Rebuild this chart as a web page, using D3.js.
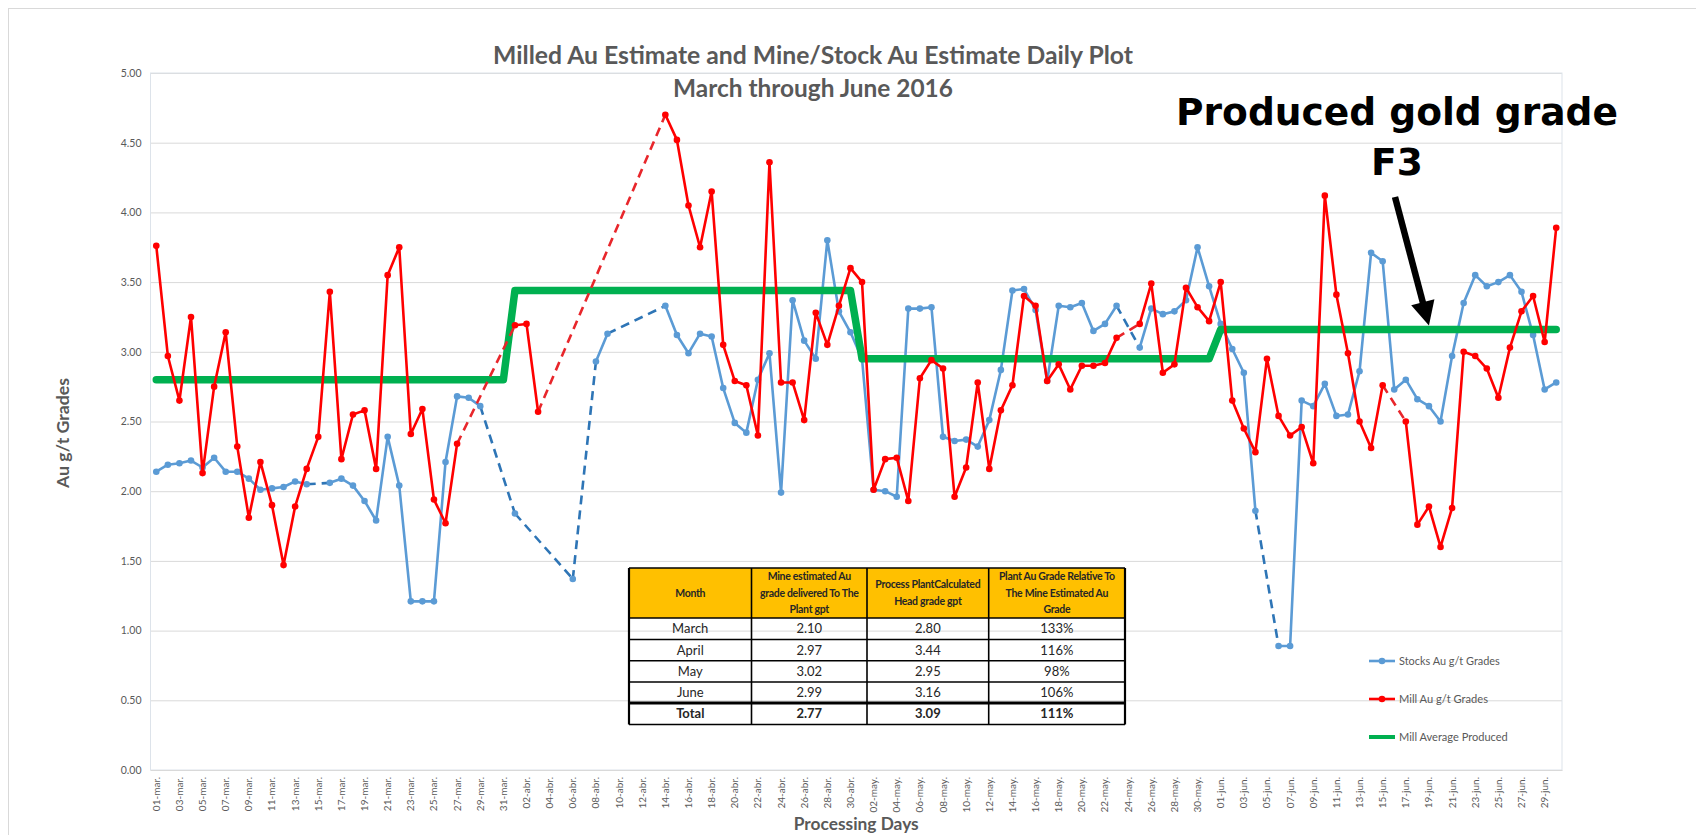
<!DOCTYPE html>
<html>
<head>
<meta charset="utf-8">
<script src="https://cdn.jsdelivr.net/npm/d3@7"></script>
<style>
  body { margin: 0; background: #fff; }
  svg { display: block; font-family: Lato, "Open Sans", sans-serif; }
</style>
</head>
<body>
<script>
// daily grades, 01-mar to 30-jun 2016 (null = no reading, bridged with a dashed line)
const stocks = [
  2.14, 2.19, 2.20, 2.22, 2.17, 2.24, 2.14, 2.14, 2.09, 2.01, 2.02, 2.03, 2.07, 2.05, null, 2.06,
  2.09, 2.04, 1.93, 1.79, 2.39, 2.04, 1.21, 1.21, 1.21, 2.21, 2.68, 2.67, 2.61, null, null,
  1.84, null, null, null, null, 1.37, null, 2.93, 3.13, null, null, null, null, 3.33, 3.12,
  2.99, 3.13, 3.11, 2.74, 2.49, 2.42, 2.80, 2.99, 1.99, 3.37, 3.08, 2.95, 3.80, 3.29, 3.14,
  2.95, 2.01, 2.00, 1.96, 3.31, 3.31, 3.32, 2.39, 2.36, 2.37, 2.32, 2.51, 2.87, 3.44, 3.45,
  3.30, 2.79, 3.33, 3.32, 3.35, 3.15, 3.20, 3.33, null, 3.03, 3.31, 3.27, 3.29, 3.37, 3.75, 3.47,
  3.20, 3.02, 2.85, 1.86, null, 0.89, 0.89, 2.65, 2.61, 2.77, 2.54, 2.55, 2.86, 3.71, 3.65,
  2.73, 2.80, 2.66, 2.61, 2.50, 2.97, 3.35, 3.55, 3.47, 3.50, 3.55, 3.43, 3.12, 2.73, 2.78
];
const mill = [
  3.76, 2.97, 2.65, 3.25, 2.13, 2.75, 3.14, 2.32, 1.81, 2.21, 1.90, 1.47, 1.89, 2.16, 2.39, 3.43,
  2.23, 2.55, 2.58, 2.16, 3.55, 3.75, 2.41, 2.59, 1.94, 1.77, 2.34, null, null, null, null,
  3.19, 3.20, 2.57, null, null, null, null, null, null, null, null, null, null, 4.70, 4.52,
  4.05, 3.75, 4.15, 3.05, 2.79, 2.76, 2.40, 4.36, 2.78, 2.78, 2.51, 3.28, 3.05, 3.33, 3.60,
  3.50, 2.01, 2.23, 2.24, 1.93, 2.81, 2.94, 2.88, 1.96, 2.17, 2.78, 2.16, 2.58, 2.76, 3.40,
  3.33, 2.79, 2.91, 2.73, 2.90, 2.90, 2.92, 3.10, null, 3.20, 3.49, 2.85, 2.91, 3.46, 3.32, 3.22,
  3.50, 2.65, 2.45, 2.28, 2.95, 2.54, 2.40, 2.46, 2.20, 4.12, 3.41, 2.99, 2.50, 2.31, 2.76,
  null, 2.50, 1.76, 1.89, 1.60, 1.88, 3.00, 2.97, 2.88, 2.67, 3.03, 3.29, 3.40, 3.07, 3.89
];
const monthAvg = [2.80, 3.44, 2.95, 3.16];
const monthAbbr = ['mar.', 'abr.', 'may.', 'jun.'];
const yTicks = [0, 0.5, 1, 1.5, 2, 2.5, 3, 3.5, 4, 4.5, 5];

const tableHeader = [
  ['Month'],
  ['Mine estimated Au', 'grade delivered To The', 'Plant gpt'],
  ['Process PlantCalculated', 'Head grade gpt'],
  ['Plant Au Grade Relative To', 'The Mine Estimated Au', 'Grade']
];
const tableMonths = ['March', 'April', 'May', 'June'];
const mineEstimate = ['2.10', '2.97', '3.02', '2.99'];
const plantCalc = ['2.80', '3.44', '2.95', '3.16'];
const relative = ['133%', '116%', '98%', '106%'];
const totalRow = ['Total', '2.77', '3.09', '111%'];

const days = d3.timeDay.range(new Date(2016, 2, 1), new Date(2016, 6, 1));
const dayLabel = d => d3.timeFormat('%d')(d) + '-' + monthAbbr[d.getMonth() - 2];
const average = days.map(d => monthAvg[d.getMonth() - 2]);

const width = 1696, height = 835;
const grey = '#595959';
const svg = d3.select('body').append('svg').attr('width', width).attr('height', height);

function fit(sel, w) {
  sel.each(function () {
    const t = d3.select(this);
    const fs = parseFloat(t.attr('font-size'));
    t.attr('font-size', fs * w / this.getComputedTextLength());
  });
}

svg.append('rect').attr('x', 8.5).attr('y', 8.5).attr('width', 1800).attr('height', 900)
  .attr('fill', 'none').attr('stroke', '#d9d9d9');

const x = d3.scaleBand().domain(d3.range(days.length)).range([150.5, 1562]);
const cx = i => x(i) + x.bandwidth() / 2;
const y = d3.scaleLinear().domain([0, 5]).range([770, 73]);
const [x0, x1] = x.range();

// grid + y labels
svg.append('g').attr('transform', `translate(${x0},0)`)
  .call(d3.axisLeft(y).tickValues(yTicks).tickFormat(d3.format('.2f')).tickSize(-(x1 - x0)).tickPadding(9))
  .call(g => g.select('.domain').remove())
  .call(g => g.selectAll('line').attr('stroke', '#d9d9d9'))
  .call(g => g.selectAll('text').attr('fill', grey).attr('font-size', 10.5).attr('font-family', 'Lato'));

svg.append('rect').attr('x', x0).attr('y', y(5)).attr('width', x1 - x0).attr('height', y(0) - y(5))
  .attr('fill', 'none').attr('stroke', '#dde3ea');

svg.append('g').attr('transform', `translate(0,${y(0)})`)
  .call(d3.axisBottom(x).tickValues(d3.range(0, days.length, 2)).tickFormat(i => dayLabel(days[i])).tickSize(0))
  .call(g => g.select('.domain').attr('stroke', '#d9d9d9'))
  .call(g => g.selectAll('text')
    .attr('transform', 'rotate(-90)').attr('text-anchor', 'end')
    .attr('x', -7).attr('y', 0).attr('dy', '0.35em')
    .attr('fill', grey).attr('font-size', 10).attr('font-family', 'Lato'));

// series
function drawSeries(vals, color, dashColor, r) {
  const pts = vals.map((v, i) => ({ i, v }));
  const line = d3.line().defined(d => d.v != null).x(d => cx(d.i)).y(d => y(d.v));
  const gaps = [];
  let prev = null;
  pts.forEach(d => {
    if (d.v == null) return;
    if (prev && d.i - prev.i > 1) gaps.push([prev, d]);
    prev = d;
  });
  const g = svg.append('g');
  g.selectAll('line.gap').data(gaps).join('line').attr('class', 'gap')
    .attr('x1', d => cx(d[0].i)).attr('y1', d => y(d[0].v))
    .attr('x2', d => cx(d[1].i)).attr('y2', d => y(d[1].v))
    .attr('stroke', dashColor).attr('stroke-width', 2.6).attr('stroke-dasharray', '9,6');
  g.append('path').datum(pts).attr('d', line).attr('fill', 'none')
    .attr('stroke', color).attr('stroke-width', 2.6).attr('stroke-linejoin', 'round');
  g.selectAll('circle').data(pts.filter(d => d.v != null)).join('circle')
    .attr('cx', d => cx(d.i)).attr('cy', d => y(d.v)).attr('r', r).attr('fill', color);
}

drawSeries(stocks, '#5B9BD5', '#2E75B6', 3.3);
svg.append('path').datum(average)
  .attr('d', d3.line().x((d, i) => cx(i)).y(d => y(d)))
  .attr('fill', 'none').attr('stroke', '#00B050').attr('stroke-width', 7.5)
  .attr('stroke-linejoin', 'round').attr('stroke-linecap', 'round');
drawSeries(mill, '#FF0000', '#E8262B', 3.3);

// titles
svg.append('text').attr('x', 813).attr('y', 64).attr('text-anchor', 'middle')
  .attr('font-weight', 'bold').attr('font-size', 22).attr('fill', grey)
  .text('Milled Au Estimate and Mine/Stock Au Estimate Daily Plot').call(fit, 640);
svg.append('text').attr('x', 813).attr('y', 97).attr('text-anchor', 'middle')
  .attr('font-weight', 'bold').attr('font-size', 22).attr('fill', grey)
  .text('March through June 2016').call(fit, 280);
svg.append('text').attr('transform', 'translate(69,433) rotate(-90)').attr('text-anchor', 'middle')
  .attr('font-weight', 'bold').attr('font-size', 15).attr('fill', grey)
  .text('Au g/t Grades').call(fit, 110);
svg.append('text').attr('x', (x0 + x1) / 2).attr('y', 830).attr('text-anchor', 'middle')
  .attr('font-weight', 'bold').attr('font-size', 17).attr('fill', grey)
  .text('Processing Days').call(fit, 125);

// annotation
const note = svg.append('g').attr('font-family', '"DejaVu Sans", Verdana, sans-serif')
  .attr('font-weight', 'bold').attr('fill', '#000');
const head = note.append('text').attr('x', 1397).attr('y', 125).attr('text-anchor', 'middle')
  .attr('font-size', 38).text('Produced gold grade').call(fit, 442);
note.append('text').attr('x', 1397).attr('y', 175).attr('text-anchor', 'middle')
  .attr('font-size', head.attr('font-size')).text('F3');

const tip = [cx(110), y(monthAvg[3]) - 4];
const start = [1395, 197];
const len = Math.hypot(tip[0] - start[0], tip[1] - start[1]);
const u = [(tip[0] - start[0]) / len, (tip[1] - start[1]) / len];
const p = [-u[1], u[0]];
const base = [tip[0] - u[0] * 24, tip[1] - u[1] * 24];
svg.append('line').attr('x1', start[0]).attr('y1', start[1])
  .attr('x2', base[0] + u[0] * 2).attr('y2', base[1] + u[1] * 2)
  .attr('stroke', '#000').attr('stroke-width', 6.5);
svg.append('path').attr('fill', '#000')
  .attr('d', `M${tip}L${base[0] + p[0] * 12},${base[1] + p[1] * 12}L${base[0] - p[0] * 12},${base[1] - p[1] * 12}Z`);

// legend
const legendItems = [
  { name: 'Stocks Au g/t Grades', color: '#5B9BD5', w: 2.6, marker: true, tw: 101 },
  { name: 'Mill Au g/t Grades', color: '#FF0000', w: 2.6, marker: true, tw: 89 },
  { name: 'Mill Average Produced', color: '#00B050', w: 4, marker: false, tw: 109 }
];
const legend = svg.append('g').selectAll('g').data(legendItems).join('g')
  .attr('transform', (d, i) => `translate(1369,${661 + i * 38})`);
legend.append('line').attr('x2', 26).attr('stroke', d => d.color).attr('stroke-width', d => d.w);
legend.filter(d => d.marker).append('circle').attr('cx', 13).attr('r', 3.3).attr('fill', d => d.color);
legend.append('text').attr('x', 30).attr('dy', '0.35em').attr('font-size', 10.5).attr('fill', grey)
  .text(d => d.name).each(function (d) { d3.select(this).call(fit, d.tw); });

// summary table
const colX = [629, 751.5, 867, 988.7, 1125];
const rowY = [568, 618, 639.5, 660.8, 682, 703, 724.5];
const rows = tableMonths.map((m, i) => [m, mineEstimate[i], plantCalc[i], relative[i]]).concat([totalRow]);
const table = svg.append('g');
table.append('rect').attr('x', colX[0]).attr('y', rowY[0])
  .attr('width', colX[4] - colX[0]).attr('height', rowY[1] - rowY[0]).attr('fill', '#FFC000');

tableHeader.forEach((lines, c) => {
  const mid = (colX[c] + colX[c + 1]) / 2;
  const y0 = (rowY[0] + rowY[1]) / 2 - (lines.length - 1) * 16.5 / 2;
  table.selectAll(null).data(lines).join('text')
    .attr('x', mid).attr('y', (d, k) => y0 + k * 16.5).attr('dy', '0.35em')
    .attr('text-anchor', 'middle').attr('font-size', 10.5).attr('font-weight', 'bold')
    .attr('fill', '#262626').attr('letter-spacing', -0.3).text(d => d);
});

rows.forEach((r, k) => {
  table.selectAll(null).data(r).join('text')
    .attr('x', (d, c) => (colX[c] + colX[c + 1]) / 2)
    .attr('y', (rowY[k + 1] + rowY[k + 2]) / 2).attr('dy', '0.36em')
    .attr('text-anchor', 'middle').attr('font-size', 13)
    .attr('font-weight', k === 4 ? 'bold' : 'normal').attr('fill', '#262626').text(d => d);
});

table.selectAll('line.h').data(rowY).join('line').attr('class', 'h')
  .attr('x1', colX[0]).attr('x2', colX[4]).attr('y1', d => d).attr('y2', d => d)
  .attr('stroke', '#000').attr('stroke-width', (d, i) => i === 5 ? 3 : 1.6);
table.selectAll('line.v').data(colX).join('line').attr('class', 'v')
  .attr('x1', d => d).attr('x2', d => d).attr('y1', rowY[0]).attr('y2', rowY[6])
  .attr('stroke', '#000').attr('stroke-width', (d, i) => i === 0 || i === 4 ? 2.2 : 1.6);
</script>
</body>
</html>
